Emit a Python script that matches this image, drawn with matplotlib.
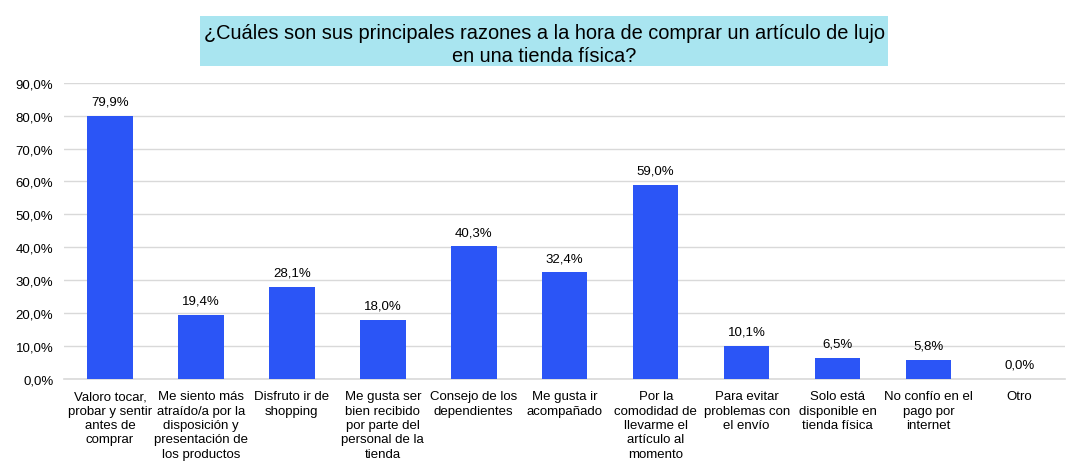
import matplotlib
matplotlib.use("Agg")
import matplotlib.pyplot as plt
from matplotlib.ticker import FuncFormatter
from matplotlib.patches import Rectangle

plt.rcParams['font.family'] = ['Liberation Sans', 'DejaVu Sans']

categories = [
    "Valoro tocar,\nprobar y sentir\nantes de\ncomprar",
    "Me siento más\natraído/a por la\ndisposición y\npresentación de\nlos productos",
    "Disfruto ir de\nshopping",
    "Me gusta ser\nbien recibido\npor parte del\npersonal de la\ntienda",
    "Consejo de los\ndependientes",
    "Me gusta ir\nacompañado",
    "Por la\ncomodidad de\nllevarme el\nartículo al\nmomento",
    "Para evitar\nproblemas con\nel envío",
    "Solo está\ndisponible en\ntienda física",
    "No confío en el\npago por\ninternet",
    "Otro",
]
values = [79.9, 19.4, 28.1, 18.0, 40.3, 32.4, 59.0, 10.1, 6.5, 5.8, 0.0]
title = "¿Cuáles son sus principales razones a la hora de comprar un artículo de lujo\nen una tienda física?"

fig = plt.figure(figsize=(10.69, 4.64), dpi=100)
ax = fig.add_axes([0.0603, 0.1810, 0.936, 0.6386])

x = list(range(len(values)))
ax.bar(x, values, width=0.5, color="#2B55F6", zorder=3)
ax.set_xlim(-0.5, len(values) - 0.5)
ax.set_ylim(0, 90)
ax.set_yticks(range(0, 91, 10))
ax.yaxis.set_major_formatter(FuncFormatter(lambda v, p: f"{v:.1f}%".replace(".", ",")))
ax.grid(axis="y", color="#d9d9d9", linewidth=1, zorder=0)
for s in ["top", "right", "left"]:
    ax.spines[s].set_visible(False)
ax.spines["bottom"].set_color("#d9d9d9")
ax.spines["bottom"].set_linewidth(1.2)
ax.tick_params(axis="y", length=0, labelsize=9.5, pad=8)
ax.tick_params(axis="x", length=0, labelsize=9.5, pad=8)
ax.set_xticks(x)
ax.set_xticklabels(categories, linespacing=1.27)

for xi, v in zip(x, values):
    ax.annotate(f"{v:.1f}%".replace(".", ","), (xi, v), xytext=(0, 6),
                textcoords="offset points", ha="center", va="bottom", fontsize=9.5)

fig.patches.append(Rectangle((0.1871, 0.8556), 0.6436, 0.1078, transform=fig.transFigure,
                             facecolor="#A9E5F0", edgecolor="none", zorder=0))
fig.text(0.509, 0.9035, title, ha="center", va="center", fontsize=14.4,
         linespacing=1.3)

fig.savefig("out.png", dpi=100)
